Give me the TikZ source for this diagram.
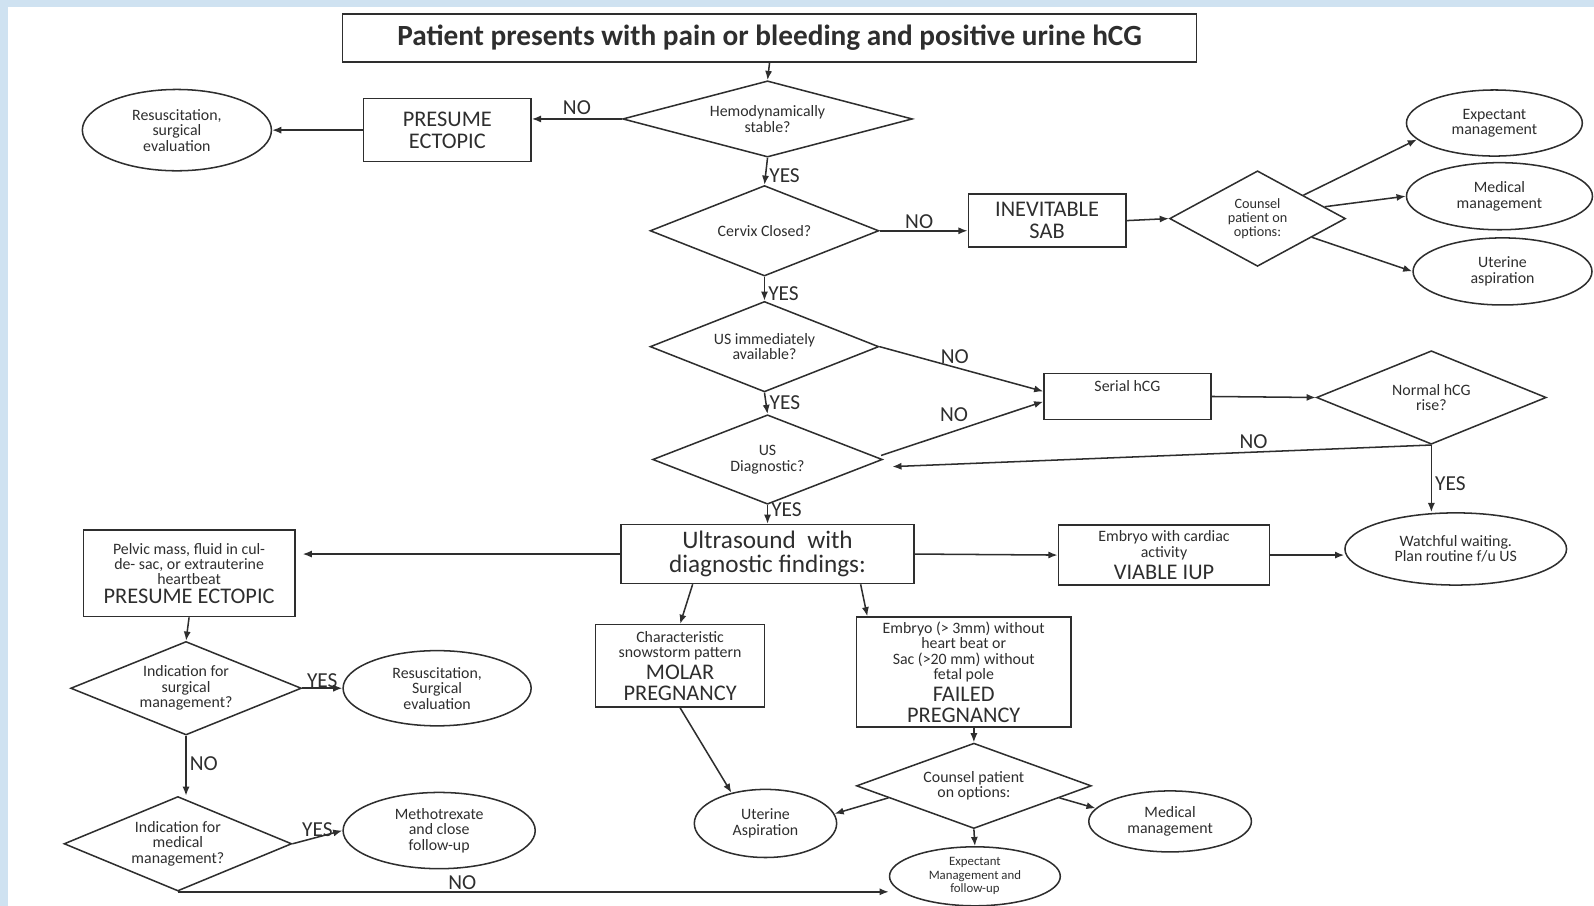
\documentclass[tikz,border=0pt]{standalone}
\usepackage{fontspec}
\setmainfont{Carlito}
\usetikzlibrary{arrows.meta,positioning,shapes.geometric}

\definecolor{ink}{HTML}{2E2E2E}
\definecolor{strip}{HTML}{CFE2F1}
\newcommand{\bg}[1]{{\fontsize{11}{11}\selectfont #1}}

\begin{document}
\begin{tikzpicture}[x=0.5pt,y=-0.5pt,
  box/.style={draw=ink,line width=0.75pt,rectangle,align=center,inner sep=1pt,text=ink,
    font=\fontsize{7.8}{7.6}\selectfont},
  big/.style={font=\fontsize{11}{11}\selectfont},
  dec/.style={draw=ink,line width=0.75pt,diamond,aspect=2.5,align=center,inner sep=0pt,
    text=ink,font=\fontsize{7.8}{7.6}\selectfont},
  oval/.style={draw=ink,line width=0.75pt,ellipse,align=center,inner sep=0pt,text=ink,
    font=\fontsize{7.8}{7.6}\selectfont},
  tiny/.style={font=\fontsize{7}{7}\selectfont},
  arr/.style={draw=ink,line width=0.75pt,-{Latex[length=4.5pt,width=3.5pt]}},
  lbl/.style={font=\fontsize{10.5}{11}\selectfont,text=ink,inner sep=1.5pt}]
  \useasboundingbox (0,0) rectangle (1568,891);
  \fill[strip] (0,0) rectangle (1568,7);
  \fill[strip] (0,0) rectangle (8,891);

  % top of the chart
  \node[box,font=\fontsize{14.4}{16}\selectfont\bfseries,minimum width=420pt,minimum height=23.5pt] (title) at (757,37.5) {Patient presents with pain or bleeding and positive urine hCG};
  \node[dec,aspect=3.5,minimum width=142.5pt,minimum height=37.5pt] (d1) at (755,117) {Hemodynamically\\stable?};
  \node[box,big,minimum width=82.5pt,minimum height=31pt] (pe1) at (440,128) {PRESUME\\ECTOPIC};
  \node[oval,minimum width=93pt,minimum height=40pt] (res1) at (174,128) {Resuscitation,\\surgical\\evaluation};
  \node[dec,minimum width=112.5pt,minimum height=44.5pt] (d2) at (752,227) {Cervix Closed?};
  \node[box,big,minimum width=77.5pt,minimum height=26pt] (sab) at (1030,217) {INEVITABLE\\SAB};
  \node[dec,tiny,minimum width=86.5pt,minimum height=47pt] (d3) at (1237,215) {Counsel\\patient on\\options:};
  \node[oval,minimum width=86.5pt,minimum height=32.5pt] (e1) at (1470,121) {Expectant\\management};
  \node[oval,minimum width=91.5pt,minimum height=33pt] (e2) at (1475,193) {Medical\\management};
  \node[oval,minimum width=88pt,minimum height=33pt] (e3) at (1478,267) {Uterine\\aspiration};

  % middle
  \node[dec,minimum width=112.5pt,minimum height=44.5pt] (d4) at (752,341) {US immediately\\available?};
  \node[box,minimum width=82pt,minimum height=22.5pt] (serial) at (1109,390) {Serial hCG\\[3pt]\mbox{}};
  \node[dec,minimum width=113pt,minimum height=44pt] (d5) at (755,452) {US\\Diagnostic?};
  \node[dec,minimum width=113pt,minimum height=46pt] (d6) at (1408,391) {Normal hCG\\rise?};
  \node[oval,minimum width=109pt,minimum height=35.5pt] (wait) at (1432,540) {Watchful waiting.\\Plan routine f/u US};
  \node[box,font=\fontsize{12.4}{11.5}\selectfont,minimum width=144pt,minimum height=29pt] (us) at (755,545) {Ultrasound\ \ with\\diagnostic findings:};
  \node[box,minimum width=104pt,minimum height=29.5pt] (viable) at (1145,546) {Embryo with cardiac\\activity\\[1.5pt]\bg{VIABLE IUP}};

  % bottom
  \node[box,minimum width=104pt,minimum height=42.5pt] (pelvic) at (186,564) {Pelvic mass, fluid in cul-\\de- sac, or extrauterine\\heartbeat\\[1.5pt]\bg{PRESUME ECTOPIC}};
  \node[box,minimum width=83pt,minimum height=40.5pt] (molar) at (669,655) {Characteristic\\snowstorm pattern\\[1.5pt]\bg{MOLAR}\\[2.5pt]\bg{PREGNANCY}};
  \node[box,minimum width=105.5pt,minimum height=54pt] (failed) at (948,661) {Embryo (> 3mm) without\\heart beat or\\Sac (>20 mm) without\\fetal pole\\[1.5pt]\bg{FAILED}\\[2.5pt]\bg{PREGNANCY}};
  \node[dec,minimum width=113.5pt,minimum height=46pt] (d7) at (183,677) {Indication for\\surgical\\management?};
  \node[oval,minimum width=92.5pt,minimum height=37pt] (res2) at (430,677) {Resuscitation,\\Surgical\\evaluation};
  \node[dec,minimum width=112pt,minimum height=46.5pt] (d8) at (175,830) {Indication for\\medical\\management?};
  \node[oval,minimum width=94.5pt,minimum height=37.5pt] (mtx) at (432,817) {Methotrexate\\and close\\follow-up};
  \node[oval,minimum width=70pt,minimum height=33.5pt] (asp) at (753,810) {Uterine\\Aspiration};
  \node[dec,minimum width=115.5pt,minimum height=42pt] (d9) at (958,773) {Counsel patient\\on options:};
  \node[oval,minimum width=80pt,minimum height=30pt] (med2) at (1151,808) {Medical\\management};
  \node[oval,font=\fontsize{6.3}{6.6}\selectfont,minimum width=84pt,minimum height=29pt] (exp) at (959,862) {Expectant\\Management and\\follow-up};

  % plain connectors
  \foreach \a/\b in {title.south/d1.north, pe1.west/res1.east, sab.east/d3.west,
      d3.27/e1.192, d3.10/e2.west, d3.-19/e3.west, serial.east/d6.west,
      us.east/viable.west, us.202/molar.north, us.-18/failed.150,
      pelvic.south/d7.north, molar.south/asp.138, d9.188/asp.8,
      d9.-8/med2.170, d9.south/exp.north}
    \draw[arr] (\a) -- (\b);
  \draw[arr] (viable.east) -- (viable.east -| wait.west);
  \draw[arr] (failed.south -| d9.north) -- (d9.north);
  \draw[arr,shorten >=3.5pt] (us.west) -- (us.west -| pelvic.east);

  % YES / NO branches
  \draw[arr] (d1.west) -- node[lbl,above]{NO} (d1.west -| pe1.east);
  \draw[arr] (d1.south) -- node[lbl,right,pos=0.65]{YES} (d2.north);
  \draw[arr] (d2.east) -- node[lbl,above,inner sep=0.5pt,pos=0.45]{NO} (d2.east -| sab.west);
  \draw[arr] (d2.south) -- node[lbl,right,pos=0.7]{YES} (d4.north);
  \draw[arr] (d4.east) -- node[lbl,above,pos=0.46]{NO} ([shift={(0,-5)}]serial.west);
  \draw[arr] (d4.south) -- node[lbl,right,pos=0.47]{YES} (d5.north);
  \draw[arr] ([shift={(-2,-4)}]d5.east) -- node[lbl,above=3pt,pos=0.45]{NO} ([shift={(0,5)}]serial.west);
  \draw[arr] (d6.south) -- node[lbl,above,pos=0.33]{NO} ([shift={(9,7)}]d5.east);
  \draw[arr] (d6.south) -- node[lbl,right,pos=0.57]{YES} (d6.south |- wait.north);
  \draw[arr] (d5.south) -- node[lbl,right,pos=0.25]{YES} (us.north);
  \draw[arr] (d7.east) -- node[lbl,above,inner sep=0pt]{YES} (res2.west);
  \draw[arr] (d7.south) -- node[lbl,right,pos=0.47]{NO} (d7.south |- d8.north);
  \draw[arr] (d8.east) -- node[lbl,above,inner sep=0pt]{YES} (mtx.west);
  \draw[arr] (d8.south) -- node[lbl,above,inner sep=0.5pt,pos=0.4]{NO} (d8.south -| exp.west);
\end{tikzpicture}
\end{document}
